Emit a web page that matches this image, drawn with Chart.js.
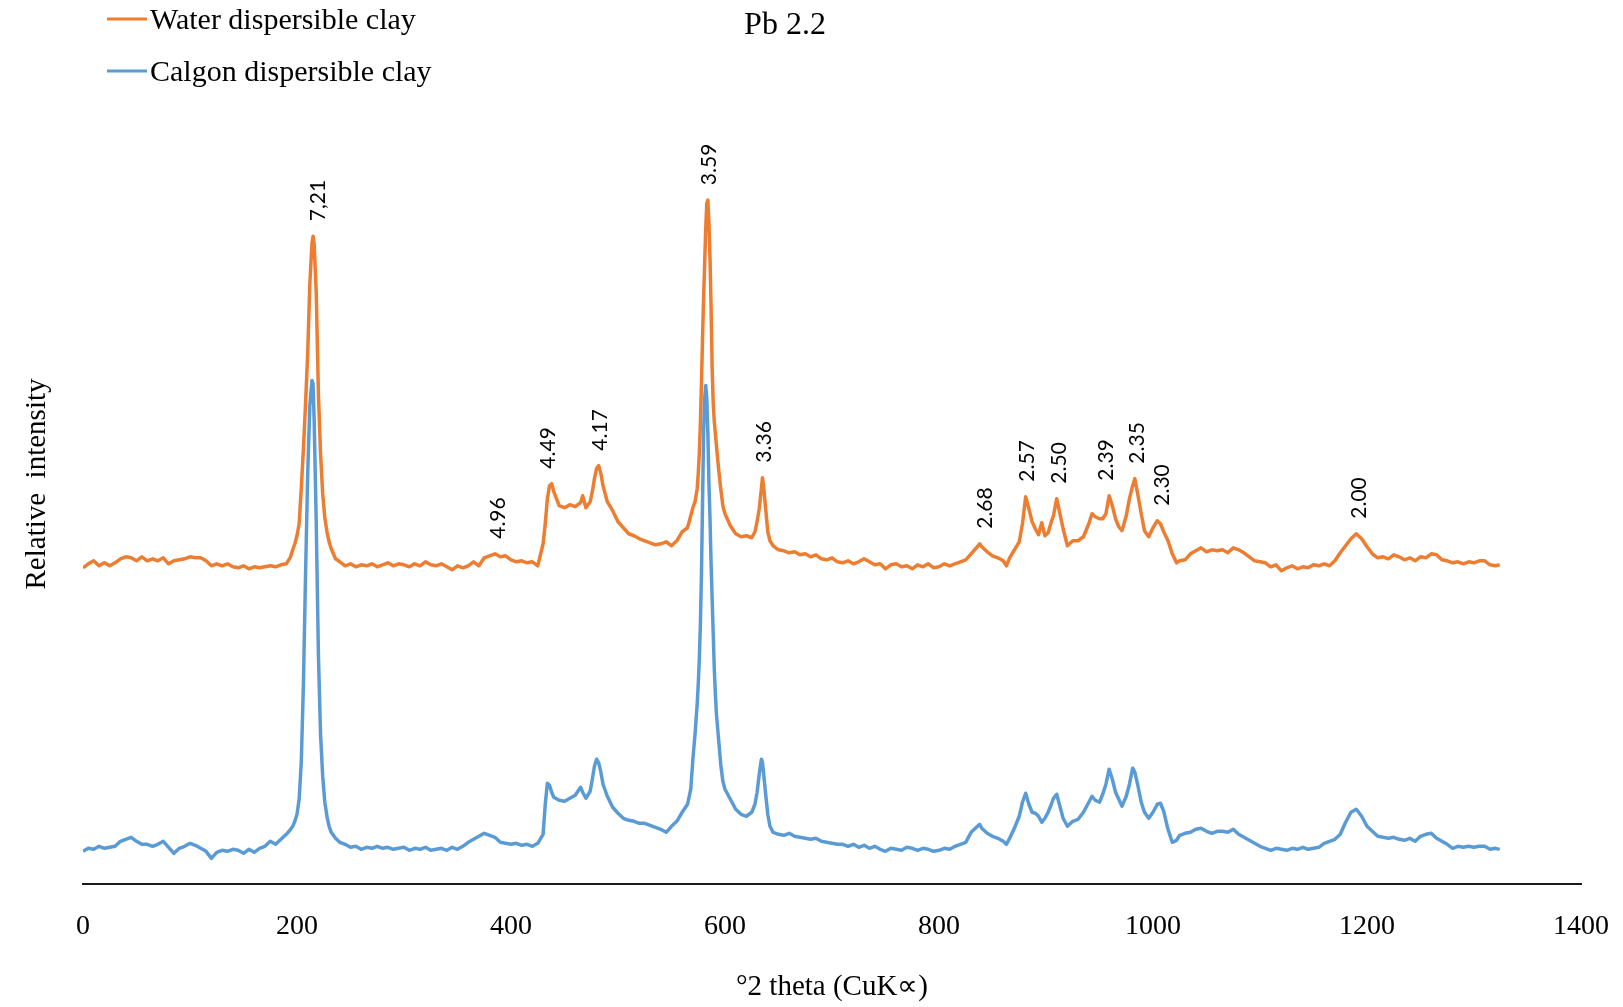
<!DOCTYPE html>
<html>
<head>
<meta charset="utf-8">
<title>Pb 2.2</title>
<script src="https://cdn.jsdelivr.net/npm/chart.js@4.4.1/dist/chart.umd.min.js"></script>
<style>
  html, body { margin: 0; padding: 0; background: #fff; }
  #wrap { width: 1623px; height: 1007px; }
</style>
</head>
<body>
<div id="wrap"><canvas id="xrdChart" width="1623" height="1007"></canvas></div>
<script>
// scan positions (same for both traces)
const theta = [
  0, 5, 10, 15, 20, 25, 30, 35, 40, 45,
  50, 55, 60, 65, 70, 75, 80, 85, 90, 95,
  100, 105, 110, 115, 120, 125, 130, 135, 140, 145,
  150, 155, 160, 165, 170, 175, 180, 185, 190, 194,
  196, 198, 200, 202, 204, 206, 208, 210, 212, 214,
  215, 216, 218, 220, 222, 224, 226, 228, 230, 232,
  236, 240, 245, 250, 255, 260, 265, 270, 275, 280,
  285, 290, 295, 300, 305, 310, 315, 320, 325, 330,
  335, 340, 345, 350, 355, 360, 365, 370, 375, 380,
  385, 390, 395, 400, 405, 410, 415, 420, 425, 430,
  432, 434, 436, 438, 440, 445, 450, 455, 460, 465,
  467, 470, 474, 476, 478, 480, 482, 484, 486, 490,
  495, 500, 505, 510, 515, 520, 525, 530, 535, 540,
  545, 550, 555, 560, 565, 568, 570, 572, 574, 575,
  576, 577, 578, 579, 580, 581, 582, 583, 584, 585,
  586, 587, 588, 589, 590, 591, 592, 594, 596, 598,
  600, 605, 610, 615, 620, 625, 628, 630, 632, 634,
  635, 636, 638, 640, 642, 645, 650, 655, 660, 665,
  670, 675, 680, 685, 690, 695, 700, 705, 710, 715,
  720, 725, 730, 735, 740, 745, 750, 755, 760, 765,
  770, 775, 780, 785, 790, 795, 800, 805, 810, 815,
  820, 825, 830, 835, 838, 840, 845, 850, 855, 860,
  863, 866, 870, 875, 878, 881, 884, 887, 890, 893,
  896, 899, 902, 905, 907, 910, 913, 916, 920, 925,
  930, 935, 940, 943, 946, 950, 953, 956, 959, 962,
  965, 968, 971, 975, 978, 981, 983, 986, 989, 992,
  996, 1000, 1004, 1007, 1010, 1014, 1018, 1022, 1025, 1030,
  1035, 1040, 1045, 1050, 1055, 1060, 1065, 1070, 1075, 1080,
  1085, 1090, 1095, 1100, 1105, 1110, 1115, 1120, 1125, 1130,
  1135, 1140, 1145, 1150, 1155, 1160, 1165, 1170, 1175, 1180,
  1185, 1190, 1195, 1200, 1205, 1210, 1215, 1220, 1225, 1230,
  1235, 1240, 1245, 1250, 1255, 1260, 1265, 1270, 1275, 1280,
  1285, 1290, 1295, 1300, 1305, 1310, 1315, 1320, 1324
];

// water dispersible clay (offset trace)
const waterClay = [
  316, 320, 323, 318, 321, 318, 321, 325, 327, 326,
  323, 327, 323, 325, 323, 326, 320, 323, 324, 325,
  327, 326, 326, 323, 318, 320, 318, 320, 317, 316,
  318, 315, 317, 316, 317, 318, 317, 319, 320, 327,
  334, 340, 348, 360, 395, 435, 480, 530, 600, 640,
  647, 640, 590, 490, 430, 390, 366, 352, 342, 335,
  325, 322, 318, 320, 317, 319, 318, 320, 317, 319,
  321, 318, 320, 319, 317, 320, 318, 322, 319, 318,
  320, 317, 314, 318, 316, 318, 322, 318, 326, 328,
  330, 327, 328, 324, 322, 323, 321, 322, 318, 340,
  360, 385, 398, 400, 392, 378, 376, 379, 377, 381,
  388, 376, 382, 392, 405, 415, 418, 410, 398, 382,
  373, 362, 356, 350, 348, 345, 343, 341, 339, 340,
  342, 338, 343, 352, 356, 368, 376, 382, 395, 410,
  430, 460, 500, 545, 585, 620, 655, 680, 683, 660,
  625, 575, 515, 480, 462, 450, 438, 415, 395, 378,
  370, 358, 350, 347, 348, 346, 352, 362, 375, 395,
  406, 398, 375, 352, 343, 338, 334, 333, 331, 332,
  329, 330, 327, 329, 325, 324, 326, 322, 321, 323,
  320, 322, 325, 322, 319, 320, 315, 319, 320, 317,
  318, 315, 319, 317, 320, 316, 317, 320, 318, 320,
  322, 324, 330, 336, 340, 337, 332, 328, 326, 323,
  318, 326, 333, 342, 360, 387, 375, 362, 355, 349,
  361, 348, 351, 362, 368, 385, 370, 355, 338, 343,
  343, 347, 360, 370, 367, 365, 365, 370, 388, 378,
  365, 357, 353, 368, 385, 398, 405, 388, 370, 353,
  347, 356, 363, 360, 352, 343, 330, 321, 323, 324,
  330, 333, 336, 332, 334, 333, 334, 331, 336, 334,
  331, 327, 323, 322, 321, 317, 319, 313, 316, 318,
  315, 317, 316, 319, 318, 320, 318, 323, 331, 338,
  345, 350, 345, 337, 330, 326, 327, 325, 329, 327,
  324, 326, 323, 327, 326, 330, 329, 324, 323, 321,
  322, 320, 322, 321, 323, 323, 319, 318, 319
];

// calgon dispersible clay
const calgonClay = [
  33, 36, 35, 38, 36, 37, 38, 43, 45, 47,
  43, 40, 40, 38, 40, 43, 37, 31, 36, 38,
  41, 39, 36, 33, 26, 32, 34, 33, 35, 34,
  31, 35, 32, 36, 38, 43, 40, 45, 50, 55,
  58, 63, 70, 85, 122, 200, 310, 410, 478, 503,
  500, 465, 360, 230, 150, 108, 82, 68, 58, 52,
  46, 42, 40, 37, 38, 35, 37, 36, 38, 36,
  37, 35, 36, 37, 34, 36, 35, 37, 34, 35,
  36, 34, 37, 35, 38, 42, 45, 48, 51, 49,
  47, 42, 41, 40, 41, 39, 40, 38, 41, 50,
  80, 101, 99, 92, 87, 84, 83, 86, 89, 97,
  92, 86, 93, 105, 118, 125, 121, 112, 100, 88,
  77, 71, 66, 64, 63, 61, 61, 59, 57, 55,
  52, 58, 63, 72, 80, 95, 125, 150, 180, 200,
  225, 260, 310, 380, 450, 485, 498, 485, 450, 400,
  365, 320, 285, 250, 215, 190, 170, 145, 120, 103,
  95, 85, 75, 70, 68, 72, 80, 92, 110, 125,
  122, 112, 90, 70, 58, 52, 50, 49, 51, 48,
  47, 46, 45, 46, 43, 42, 41, 40, 40, 38,
  40, 37, 39, 36, 38, 35, 33, 36, 35, 34,
  37, 36, 34, 36, 35, 33, 34, 36, 35, 38,
  40, 42, 52, 57, 60, 56, 51, 48, 46, 43,
  40, 46, 55, 68, 82, 91, 80, 72, 71, 68,
  62, 66, 72, 80, 86, 90, 78, 66, 58, 63,
  65, 72, 82, 88, 84, 82, 90, 100, 115, 105,
  92, 85, 78, 88, 100, 116, 112, 98, 82, 72,
  66, 72, 80, 81, 73, 55, 42, 44, 49, 51,
  52, 55, 56, 53, 51, 53, 53, 52, 55, 50,
  47, 44, 41, 38, 36, 34, 36, 35, 34, 36,
  35, 37, 35, 36, 37, 41, 43, 45, 50, 62,
  72, 75, 68, 58, 53, 48, 47, 46, 47, 45,
  44, 46, 43, 48, 50, 51, 46, 43, 40, 36,
  38, 37, 38, 37, 38, 38, 35, 36, 35
];

// d-spacings written over the water trace
const peakLabels = ['7,21', '4.96', '4.49', '4.17', '3.59', '3.36', '2.68', '2.57', '2.50', '2.39', '2.35', '2.30', '2.00'];
const peakTheta = [220, 388, 435, 483, 585, 637, 843, 882, 912, 956, 985, 1009, 1193];

const thetaTicks = [0, 200, 400, 600, 800, 1000, 1200, 1400];

const serif = '"Liberation Serif", "Times New Roman", serif';
const ORANGE = '#ED7D31';
const BLUE = '#5B9BD5';

const toPoints = (ys) => theta.map((t, i) => ({ x: t, y: ys[i] }));

const annotate = {
  id: 'annotate',
  afterDatasetsDraw(chart) {
    const { ctx } = chart;
    const xs = chart.scales.x, ys = chart.scales.y;
    ctx.save();
    ctx.fillStyle = '#000';
    ctx.font = '21px Lato, "Open Sans", sans-serif';
    ctx.textAlign = 'left';
    ctx.textBaseline = 'middle';
    peakLabels.forEach((txt, i) => {
      const t = peakTheta[i];
      let top = 0;
      theta.forEach((v, j) => {
        if (Math.abs(v - t) <= 6) top = Math.max(top, waterClay[j]);
      });
      ctx.save();
      ctx.translate(xs.getPixelForValue(t), ys.getPixelForValue(top) - 15);
      ctx.rotate(-Math.PI / 2);
      ctx.fillText(txt, 0, 0);
      ctx.restore();
    });
    ctx.restore();
  },
  afterDraw(chart) {
    const { ctx, chartArea } = chart;
    ctx.save();
    ctx.fillStyle = '#000';

    // legend, stacked in the top left corner
    ctx.font = '30px ' + serif;
    ctx.textAlign = 'left';
    ctx.textBaseline = 'alphabetic';
    chart.data.datasets.forEach((ds, i) => {
      const ly = 19 + i * 52;
      ctx.strokeStyle = ds.borderColor;
      ctx.lineWidth = 3;
      ctx.beginPath();
      ctx.moveTo(107, ly);
      ctx.lineTo(147, ly);
      ctx.stroke();
      ctx.fillText(ds.label, 150, ly + 10);
    });

    // sample name
    ctx.font = '32px ' + serif;
    ctx.textAlign = 'center';
    ctx.fillText('Pb 2.2', 785, 34);

    // axis titles
    ctx.font = '29px ' + serif;
    ctx.fillText('°2 theta (CuK∝)', (chartArea.left + chartArea.right) / 2, 995);
    ctx.save();
    ctx.translate(45, 484);
    ctx.rotate(-Math.PI / 2);
    ctx.fillText('Relative  intensity', 0, 0);
    ctx.restore();

    ctx.restore();
  }
};

new Chart(document.getElementById('xrdChart'), {
  type: 'line',
  data: {
    datasets: [
      {
        label: 'Water dispersible clay',
        data: toPoints(waterClay),
        borderColor: ORANGE,
        backgroundColor: ORANGE,
        borderWidth: 3.5,
        pointRadius: 0,
        tension: 0,
        borderJoinStyle: 'round',
        order: 1
      },
      {
        label: 'Calgon dispersible clay',
        data: toPoints(calgonClay),
        borderColor: BLUE,
        backgroundColor: BLUE,
        borderWidth: 3.5,
        pointRadius: 0,
        tension: 0,
        borderJoinStyle: 'round',
        order: 0
      }
    ]
  },
  options: {
    responsive: false,
    animation: false,
    events: [],
    layout: { padding: { left: 83, right: 42, top: 123, bottom: 39 } },
    plugins: {
      legend: { display: false },
      title: { display: false },
      tooltip: { enabled: false }
    },
    scales: {
      x: {
        type: 'linear',
        min: 0,
        max: 1400,
        afterBuildTicks: (scale) => { scale.ticks = thetaTicks.map(v => ({ value: v })); },
        // end labels fit inside the page margins, no extra side padding
        afterFit: (scale) => { scale.paddingLeft = 0; scale.paddingRight = 0; },
        grid: { display: false, drawTicks: false },
        border: { display: true, color: '#1a1a1a', width: 2 },
        ticks: {
          padding: 25,
          color: '#000',
          font: { family: serif, size: 28 },
          maxRotation: 0,
          callback: (v) => String(v)
        }
      },
      y: {
        display: false,
        min: 0,
        max: 760
      }
    }
  },
  plugins: [annotate]
});
</script>
</body>
</html>
